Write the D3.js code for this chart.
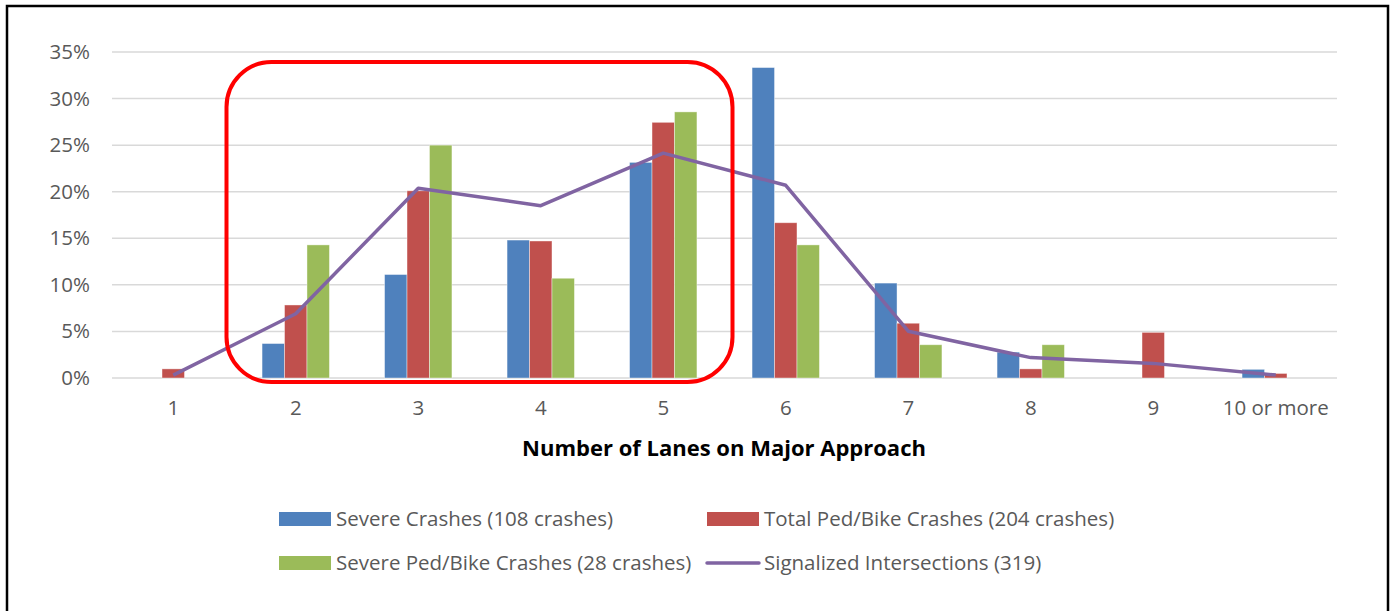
<!DOCTYPE html>
<html><head><meta charset="utf-8">
<script src="https://cdn.jsdelivr.net/npm/d3@7"></script>
<style>html,body{margin:0;padding:0;background:#fff;}svg{display:block;}</style>
</head><body>
<script>
const categories = ["1","2","3","4","5","6","7","8","9","10 or more"];
const severeCrashes = [0, 3.70, 11.11, 14.81, 23.15, 33.33, 10.19, 2.78, 0, 0.93];
const totalPedBike = [0.98, 7.84, 20.10, 14.71, 27.45, 16.67, 5.88, 0.98, 4.90, 0.49];
const severePedBike = [0, 14.29, 25.00, 10.71, 28.57, 14.29, 3.57, 3.57, 0, 0];
const signalized = [0.31, 6.90, 20.38, 18.50, 24.14, 20.69, 5.02, 2.19, 1.57, 0.31];
const yTicks = [0, 5, 10, 15, 20, 25, 30, 35];
const seriesNames = ["Severe Crashes (108 crashes)", "Total Ped/Bike Crashes (204 crashes)", "Severe Ped/Bike Crashes (28 crashes)", "Signalized Intersections (319)"];
const xTitle = "Number of Lanes on Major Approach";

const W = 1393, H = 611;
const colors = ["#4F81BD", "#C0504D", "#9BBB59", "#8064A2"];
const font = "'Open Sans', sans-serif";
const fs = 20.5;
const svg = d3.select("body").append("svg").attr("width", W).attr("height", H);

svg.append("rect").attr("x", 7).attr("y", 6).attr("width", 1381).attr("height", 620)
  .attr("fill", "#fff").attr("stroke", "#000").attr("stroke-width", 2.5);

const x = d3.scaleBand().domain(categories).range([112, 1337]);
const y = d3.scaleLinear().domain([0, 35]).range([378, 52]);
const barSeries = [severeCrashes, totalPedBike, severePedBike];
const xs = d3.scaleBand().domain([0,1,2]).range([0, x.bandwidth()*0.55]);
const off = x.bandwidth()*0.225;

svg.append("g").selectAll("line").data(yTicks).join("line")
  .attr("x1", 112).attr("x2", 1337).attr("y1", d => y(d)).attr("y2", d => y(d))
  .attr("stroke", "#D9D9D9").attr("stroke-width", 1.5);

const yAxis = svg.append("g").attr("transform", "translate(90,0)")
  .call(d3.axisLeft(y).tickValues(yTicks).tickFormat(d => d + "%").tickSize(0).tickPadding(0));
yAxis.select(".domain").remove();
yAxis.selectAll("text").attr("font-family", font).attr("font-size", fs).attr("fill", "#595959");

const xAxis = svg.append("g").attr("transform", "translate(0,400)")
  .call(d3.axisBottom(x).tickSize(0).tickPadding(0));
xAxis.select(".domain").remove();
xAxis.selectAll("text").attr("font-family", font).attr("font-size", fs).attr("fill", "#595959");

barSeries.forEach((s, i) => {
  svg.append("g").selectAll("rect").data(s).join("rect")
    .attr("x", (d, j) => x(categories[j]) + off + xs(i))
    .attr("y", d => y(d))
    .attr("width", xs.bandwidth())
    .attr("height", d => y(0) - y(d))
    .attr("fill", colors[i]).attr("stroke", "#fff").attr("stroke-opacity", 0.5).attr("stroke-width", 0.8);
});

const line = d3.line().x((d, j) => x(categories[j]) + x.bandwidth()/2).y(d => y(d));
svg.append("path").datum(signalized).attr("d", line)
  .attr("fill", "none").attr("stroke", colors[3]).attr("stroke-width", 3.5).attr("stroke-linejoin", "round");

const rx0 = x("2") - 8, rx1 = x("5") + x.bandwidth() + 8;
svg.append("rect").attr("x", rx0).attr("y", 62).attr("width", rx1 - rx0).attr("height", 320)
  .attr("rx", 45).attr("ry", 45).attr("fill", "none").attr("stroke", "#FF0000").attr("stroke-width", 4);

svg.append("text").attr("x", 724).attr("y", 456).attr("text-anchor", "middle")
  .attr("font-family", font).attr("font-weight", "bold").attr("font-size", 22).attr("fill", "#000").text(xTitle);

const legPos = [[279, 519], [707, 519], [279, 563], [707, 563]];
seriesNames.forEach((n, i) => {
  const [lx, ly] = legPos[i];
  if (i < 3) {
    svg.append("rect").attr("x", lx).attr("y", ly - 7).attr("width", 52).attr("height", 14).attr("fill", colors[i]);
  } else {
    svg.append("line").attr("x1", lx).attr("x2", lx + 52).attr("y1", ly).attr("y2", ly)
      .attr("stroke", colors[i]).attr("stroke-width", 3.5).attr("stroke-linecap", "round");
  }
  svg.append("text").attr("x", lx + 57).attr("y", ly).attr("dy", "0.35em")
    .attr("font-family", font).attr("font-size", fs).attr("fill", "#595959").text(n);
});
</script>
</body></html>
